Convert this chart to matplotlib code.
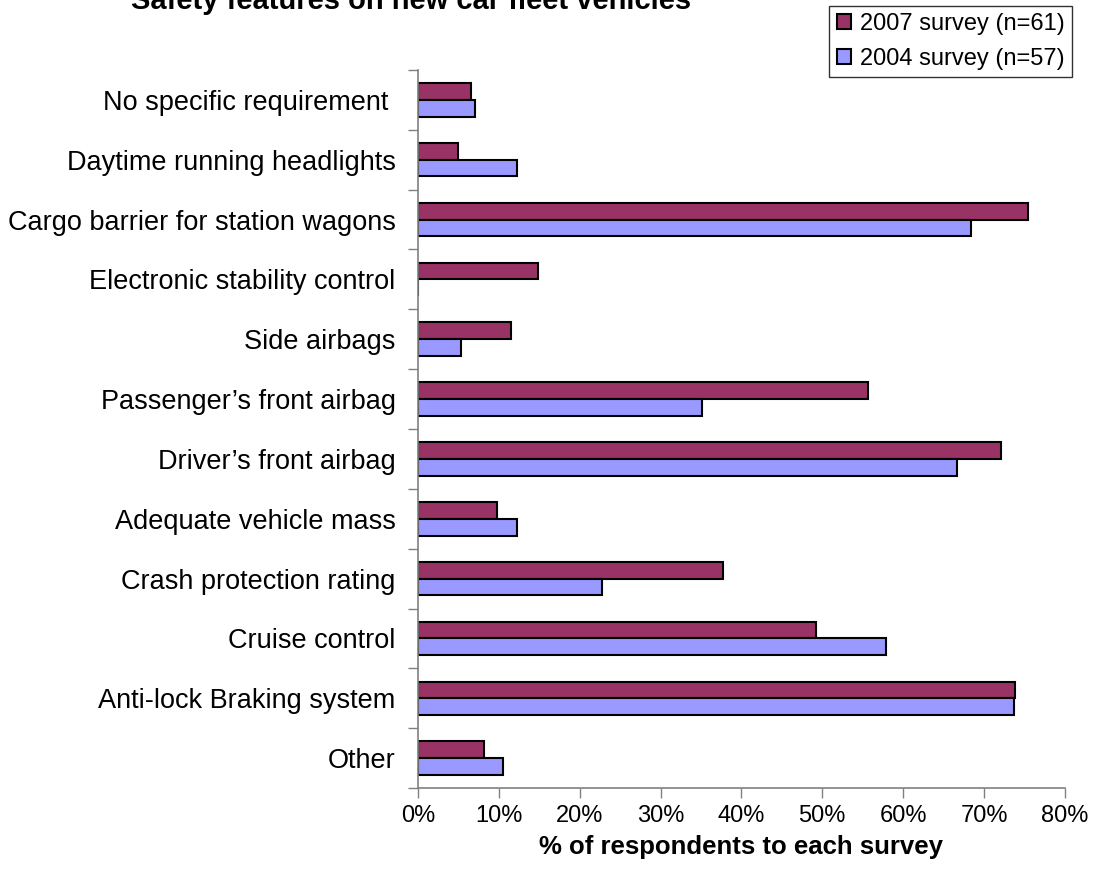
import numpy as np
import matplotlib.pyplot as plt
from matplotlib.ticker import PercentFormatter

plt.rcParams['font.family'] = ['Liberation Sans', 'DejaVu Sans']

# datos (porcentaje de encuestados)
categories = [
    "No specific requirement ",
    "Daytime running headlights",
    "Cargo barrier for station wagons",
    "Electronic stability control",
    "Side airbags",
    "Passenger\u2019s front airbag",
    "Driver\u2019s front airbag",
    "Adequate vehicle mass",
    "Crash protection rating",
    "Cruise control",
    "Anti-lock Braking system",
    "Other",
]
survey_2007 = [6.6, 4.9, 75.4, 14.8, 11.5, 55.7, 72.1, 9.8, 37.7, 49.2, 73.8, 8.2]
survey_2004 = [7.0, 12.3, 68.4, 0.0, 5.3, 35.1, 66.7, 12.3, 22.8, 57.9, 73.7, 10.5]
labels = ["2007 survey (n=61)", "2004 survey (n=57)"]

fig = plt.figure(figsize=(10.94, 8.86), dpi=100)
ax = fig.add_axes([0.382, 0.1106, 0.5914, 0.8104])

y = np.arange(len(categories))
h = 0.28
ax.barh(y - h / 2, survey_2007, height=h, color="#993366", edgecolor="black",
        linewidth=1.5, label=labels[0])
ax.barh(y + h / 2, survey_2004, height=h, color="#9999FF", edgecolor="black",
        linewidth=1.5, label=labels[1])

ax.set_ylim(len(categories) - 0.5, -0.5)
ax.set_xlim(0, 80)
ax.set_xticks(np.arange(0, 81, 10))
ax.xaxis.set_major_formatter(PercentFormatter(decimals=0))

# ticks en los límites de cada categoría
ax.set_yticks(np.arange(-0.5, len(categories), 1))
ax.set_yticklabels([])
ax.set_yticks(y, minor=True)
ax.set_yticklabels(categories, minor=True, fontsize=19.5)
ax.tick_params(axis="y", which="minor", length=0, pad=16)
ax.tick_params(axis="y", which="major", length=7, width=1, color="#808080")
ax.tick_params(axis="x", length=7, width=1, color="#808080", labelsize=17, pad=5)

for side in ["top", "right"]:
    ax.spines[side].set_visible(False)
for side in ["left", "bottom"]:
    ax.spines[side].set_color("#808080")
    ax.spines[side].set_linewidth(1.2)

ax.set_xlabel("% of respondents to each survey", fontsize=18.5,
              fontweight="bold", labelpad=6)

fig.text(131 / 1094, 1 - 9 / 886, "Safety features on new car fleet vehicles",
         fontsize=21, fontweight="bold", ha="left", va="baseline")

leg = fig.legend(loc="upper right", bbox_to_anchor=(1072 / 1094, 1 - 6 / 886),
                 fontsize=17, frameon=True, fancybox=False, edgecolor="black",
                 handlelength=0.6, handleheight=0.6, handletextpad=0.4,
                 borderpad=0.3, labelspacing=0.55, borderaxespad=0)
leg.get_frame().set_linewidth(1)

fig.savefig("out.png", dpi=100)
